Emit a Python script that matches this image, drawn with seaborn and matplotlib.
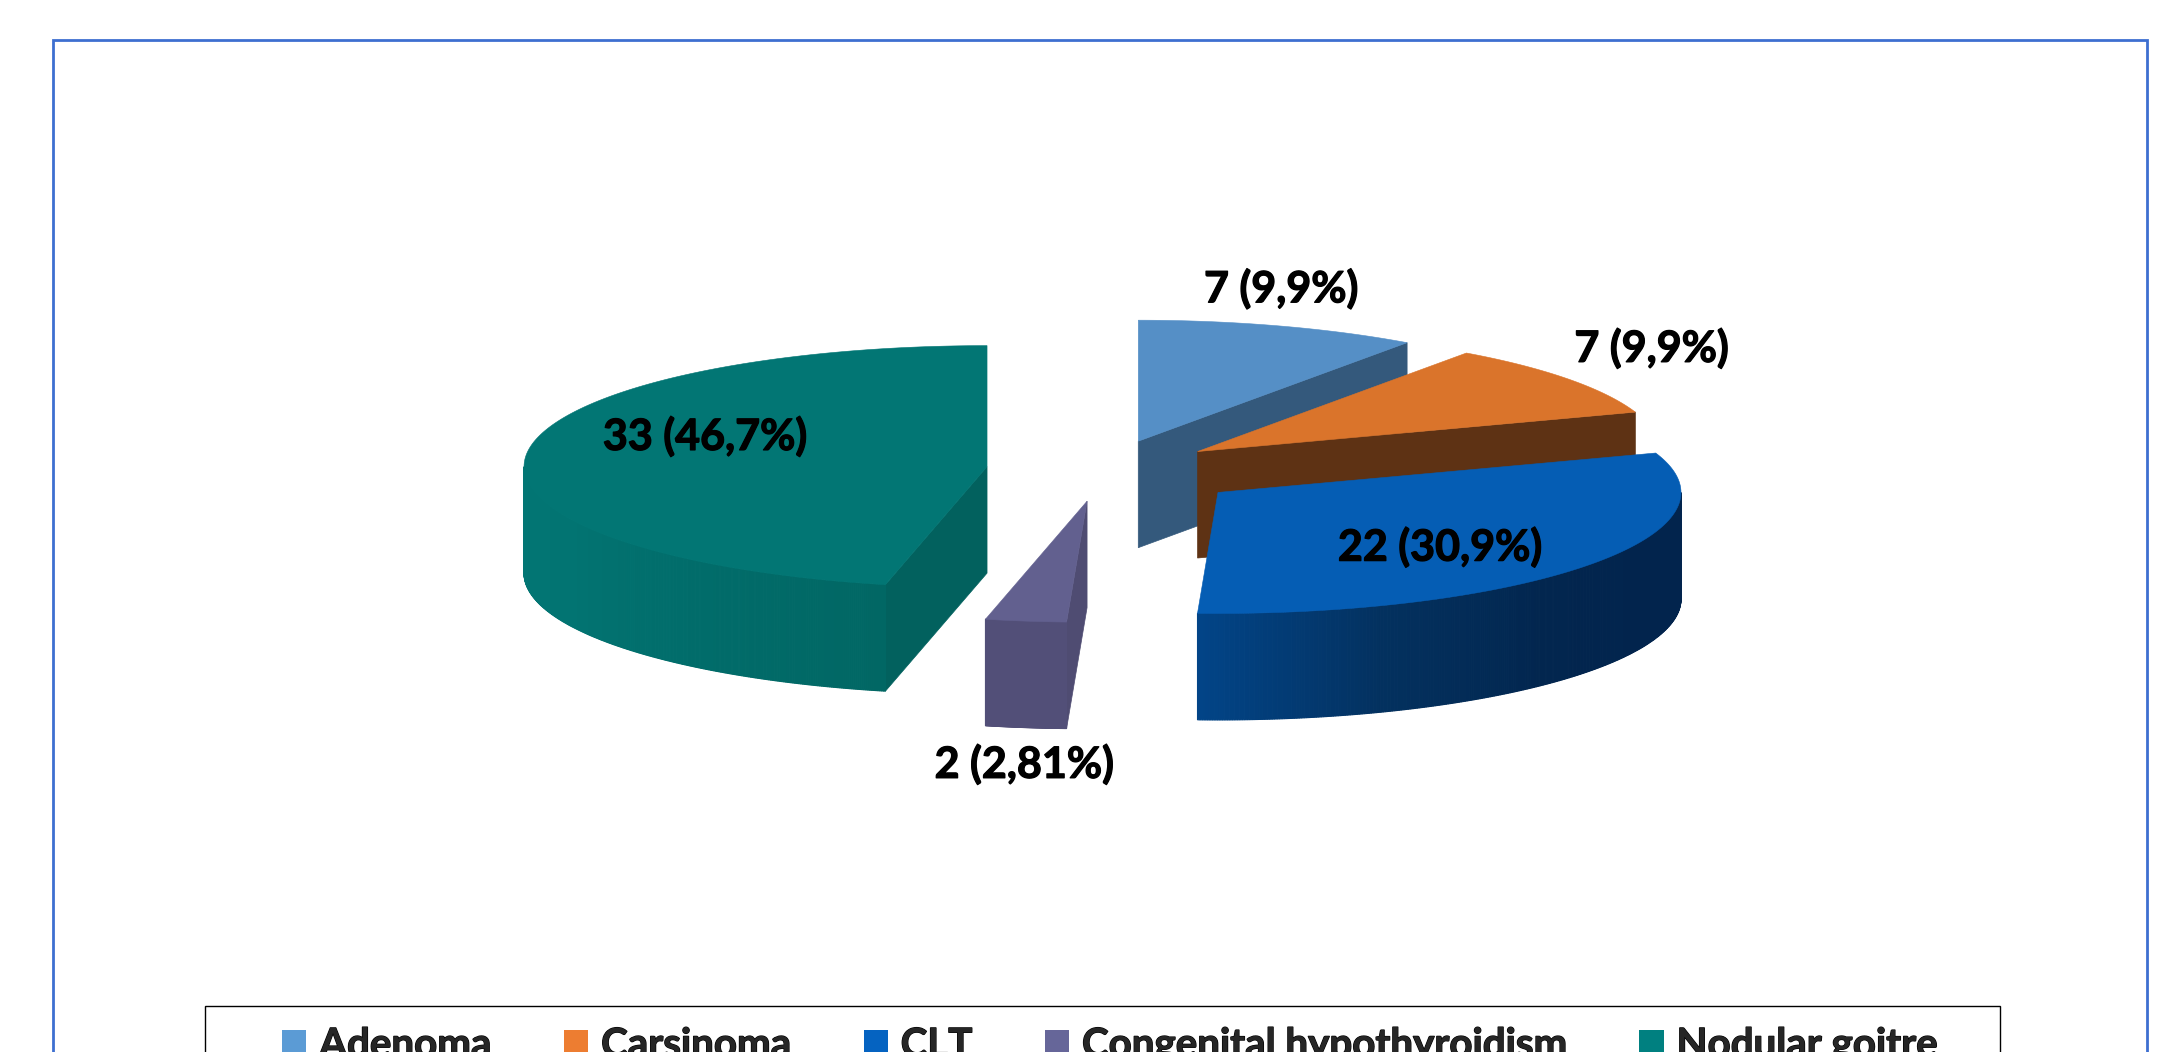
import numpy as np
import seaborn as sns
import matplotlib.pyplot as plt
import matplotlib.patheffects as pe
from matplotlib.patches import Patch, Rectangle

# data
categories = ["Adenoma", "Carsinoma", "CLT", "Congenital hypothyroidism", "Nodular goitre"]
counts = [7, 7, 22, 2, 33]
value_labels = ["7 (9,9%)", "7 (9,9%)", "22 (30,9%)", "2 (2,81%)", "33 (46,7%)"]

# styling per slice
explode = [0.25, 0.255, 0.31, 0.26, 0.252]
legend_colors = ["#5B9BD5", "#ED7D31", "#0563C1", "#666699", "#008080"]
top_colors = ["#558FC6", "#DA742B", "#055DB4", "#62608F", "#027674"]
cut_colors = ["#34597C", "#5E3214", "#01244F", "#4F4C72", "#02615E"]
rim_colors = [
    ["#34597C", "#34597C"],
    ["#5E3214", "#5E3214"],
    ["#02244D", "#02244D", "#02264F", "#03315F", "#024487"],
    ["#524F78", "#524F78"],
    ["#016764", "#016C6A", "#027472", "#027674"],
]
label_xy = [(0.385, 1.50), (1.185, 1.008), (0.728, -0.635), (-0.17, -2.43), (-0.86, 0.28)]

depth = 0.88
W, H = 2167, 1052
# pie centre and radii in pixels
PX, PY, RX, RY = 1103, 470, 463, 121

sns.set_theme(style="white")
plt.rcParams["font.family"] = ["Lato", "DejaVu Sans"]

fig = plt.figure(figsize=(W / 100, H / 100), dpi=100, facecolor="white")
ax = fig.add_axes([0, 0, 1, 1])
ax.set_xlim(-PX / RX, (W - PX) / RX)
ax.set_ylim((PY - H) / RY, PY / RY)
ax.set_axis_off()


def arc(cx, cy, a0, a1, n=120):
    t = np.radians(np.linspace(a0, a1, n))
    return cx + np.sin(t), cy + np.cos(t)


# slice angles, clockwise from 12 o'clock
edges = np.concatenate([[0], np.cumsum(counts)]) / np.sum(counts) * 360
mids = (edges[:-1] + edges[1:]) / 2
cxs = np.array(explode) * np.sin(np.radians(mids))
cys = np.array(explode) * np.cos(np.radians(mids))

# back slices first
for z, i in enumerate(np.argsort(-cys)):
    a0, a1 = edges[i], edges[i + 1]
    cx, cy = cxs[i], cys[i]

    # cut faces that look at the viewer
    for a, visible in [(a0, np.sin(np.radians(a0)) < -1e-6), (a1, np.sin(np.radians(a1)) > 1e-6)]:
        if visible:
            ex, ey = arc(cx, cy, a, a, 1)
            ax.fill([cx, ex[0], ex[0], cx], [cy, ey[0], ey[0] - depth, cy - depth],
                    color=cut_colors[i], lw=0.5, zorder=z * 3 + 10)

    # outer rim, front half only
    r0, r1 = max(a0, 90), min(a1, 270)
    if r1 > r0:
        steps = 300
        shades = sns.blend_palette(rim_colors[i], steps)
        ang = np.linspace(r0, r1, steps + 1)
        for k in range(steps):
            x, y = arc(cx, cy, ang[k], ang[k + 1], 3)
            ax.fill(np.r_[x, x[::-1]], np.r_[y, y[::-1] - depth],
                    color=shades[k], lw=0.8, zorder=z * 3 + 11)

    # top face
    x, y = arc(cx, cy, a0, a1, 200)
    ax.fill(np.r_[cx, x], np.r_[cy, y], color=top_colors[i], lw=0.4, zorder=z * 3 + 12)

heavier = [pe.withStroke(linewidth=0.9, foreground="black")]
for i, txt in enumerate(value_labels):
    ax.text(label_xy[i][0], label_xy[i][1], txt, ha="center", va="center",
            fontsize=31, fontweight="bold", color="black", zorder=100, path_effects=heavier)

# outer frame, runs off the bottom of the picture
fig.add_artist(Rectangle((53 / W, -0.2), (2147 - 53) / W, 1.2 - 40 / H, fill=False,
                         edgecolor="#3D6FD0", lw=2, transform=fig.transFigure))
# legend box, also cut by the bottom edge
fig.add_artist(Rectangle((205 / W, -0.2), (2000 - 205) / W, 1.2 - 1006 / H, fill=False,
                         edgecolor="black", lw=1, transform=fig.transFigure))

handles = [Patch(facecolor=c, edgecolor="none") for c in legend_colors]
leg = fig.legend(handles, categories, ncol=5, loc="upper left",
                 bbox_to_anchor=(282 / W, 1 - 1027 / H), bbox_transform=fig.transFigure,
                 borderaxespad=0, borderpad=0,
                 prop={"weight": "bold", "size": 29},
                 handlelength=0.6, handleheight=0.6, handletextpad=0.32, columnspacing=1.8,
                 frameon=False)
for t in leg.get_texts():
    t.set_path_effects(heavier)

fig.savefig("out.png", dpi=100, facecolor="white")
